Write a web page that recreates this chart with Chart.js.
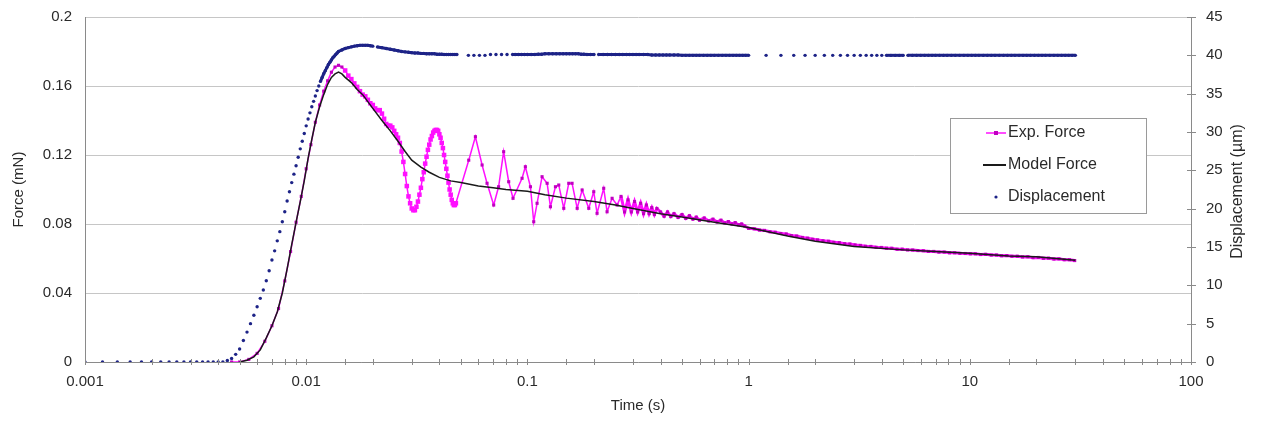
<!DOCTYPE html>
<html><head><meta charset="utf-8">
<script src="https://cdn.jsdelivr.net/npm/chart.js@4.4.0/dist/chart.umd.min.js"></script>
<style>html,body{margin:0;padding:0;background:#fff;overflow:hidden}</style>
</head><body>
<canvas id="c" width="1263" height="424"></canvas>
<script>
// ---------- data ----------
const xTickLabels = ['0.001','0.01','0.1','1','10','100'];
const forceTickLabels = ['0','0.04','0.08','0.12','0.16','0.2'];
const dispTickLabels = ['0','5','10','15','20','25','30','35','40','45'];
const legendLabels = ['Exp. Force','Model Force','Displacement'];

const dispTime = [
0.0010,0.0012,0.0014,0.0016,0.0018,0.0020,0.0022,0.0024,0.0026,0.0028,
0.0030,0.0032,0.0034,0.0036,0.0038,0.0040,0.0042,0.0044,0.0046,0.0048,
0.0050,0.0052,0.0054,0.0056,0.0058,0.0060,0.0062,0.0064,0.0066,0.0068,
0.0070,0.0072,0.0074,0.0076,0.0078,0.0080,0.0082,0.0084,0.0086,0.0088,
0.0090,0.0092,0.0094,0.0096,0.0098,0.0100,0.0102,0.0104,0.0106,0.0108,
0.0110,0.0112,0.0114,0.0116,0.0118,0.0120,0.0122,0.0124,0.0126,0.0128,
0.0130,0.0132,0.0134,0.0136,0.0138,0.0140,0.0145,0.0150,0.0155,0.0160,
0.0165,0.0170,0.0175,0.0180,0.0185,0.0190,0.0195,0.0200,0.0210,0.0220,
0.023,0.024,0.025,0.026,0.027,0.028,0.029,0.030,0.031,0.032,
0.033,0.034,0.035,0.036,0.037,0.038,0.039,0.040,0.041,0.042,
0.043,0.044,0.045,0.046,0.047,0.048,0.0541,0.0573,0.0607,0.0643,
0.0681,0.0721,0.0764,0.0809,0.0857,0.088,0.091,0.094,0.097,0.100,
0.104,0.108,0.112,0.116,0.120,0.125,0.130,0.135,0.140,0.145,
0.150,0.155,0.160,0.165,0.170,0.175,0.180,0.186,0.193,0.200,
0.21,0.22,0.23,0.24,0.25,0.26,0.27,0.28,0.29,0.30,
0.31,0.32,0.335,0.35,0.365,0.38,0.395,0.41,0.425,0.44,
0.46,0.48,0.50,0.52,0.54,0.56,0.58,0.60,0.625,0.65,
0.675,0.70,0.73,0.76,0.79,0.82,0.85,0.88,0.91,0.94,
0.97,1.0,1.2,1.4,1.6,1.8,2.0,2.2,2.4,2.6,
2.8,3.0,3.2,3.4,3.6,3.8,4.0,4.2,4.4,4.6,
4.8,5.0,5.25,5.5,5.75,6.0,6.25,6.5,6.75,7.0,
7.3,7.6,7.9,8.25,8.6,9.0,9.4,9.8,10.2,10.6,
11.0,11.5,12.0,12.5,13.0,13.6,14.2,14.8,15.4,16.0,
16.7,17.4,18.1,18.8,19.6,20.4,21.2,22.0,23.0,24.0,
25.0,26.0,27.0,28.0,29.0,30.0];
const dispMicron = [
0,0,0,0,0,0,0,0,0,0,
0,0,0,0,0,0,0,0.2,0.45,1.0,
1.7,2.8,3.9,5.0,6.1,7.2,8.3,9.4,10.6,11.9,
13.3,14.5,15.8,17.0,18.3,19.6,21.0,22.2,23.4,24.5,
25.6,26.7,27.8,28.8,29.8,30.8,31.7,32.5,33.3,34.0,
34.7,35.4,36.0,36.6,37.1,37.6,38.0,38.4,38.8,39.1,
39.4,39.7,39.9,40.1,40.3,40.5,40.7,40.9,41.0,41.1,
41.2,41.25,41.3,41.3,41.3,41.3,41.25,41.2,41.1,41.0,
40.9,40.8,40.7,40.6,40.5,40.45,40.4,40.35,40.3,40.3,
40.25,40.25,40.2,40.2,40.2,40.2,40.15,40.15,40.15,40.1,
40.1,40.1,40.1,40.1,40.1,40.1,40.0,40.0,40.0,40.0,
40.1,40.1,40.1,40.1,40.1,40.1,40.1,40.1,40.1,40.1,
40.1,40.1,40.15,40.15,40.2,40.2,40.2,40.2,40.2,40.2,
40.2,40.2,40.2,40.2,40.2,40.15,40.15,40.1,40.1,40.1,
40.1,40.1,40.1,40.1,40.1,40.1,40.1,40.1,40.1,40.1,
40.1,40.1,40.1,40.1,40.05,40.05,40.05,40.05,40.05,40.05,
40.05,40.05,40.0,40.0,40.0,40.0,40.0,40.0,40.0,40.0,
40.0,40.0,40.0,40.0,40.0,40.0,40.0,40.0,40.0,40.0,
40.0,40.0,40.0,40.0,40.0,40.0,40.0,40.0,40.0,40.0,
40.0,40.0,40.0,40.0,40.0,40.0,40.0,40.0,40.0,40.0,
40.0,40.0,40.0,40.0,40.0,40.0,40.0,40.0,40.0,40.0,
40.0,40.0,40.0,40.0,40.0,40.0,40.0,40.0,40.0,40.0,
40.0,40.0,40.0,40.0,40.0,40.0,40.0,40.0,40.0,40.0,
40.0,40.0,40.0,40.0,40.0,40.0,40.0,40.0,40.0,40.0,
40.0,40.0,40.0,40.0,40.0,40.0];

const modelTime = [
0.0050,0.0054,0.0058,0.0062,0.0066,0.0070,0.0074,0.0078,0.0082,0.0086,
0.0090,0.0094,0.0098,0.0102,0.0106,0.0110,0.0115,0.0120,0.0125,0.0130,
0.0135,0.0140,0.0145,0.0150,0.016,0.017,0.018,0.020,0.022,0.024,
0.026,0.028,0.030,0.033,0.036,0.040,0.045,0.050,0.060,0.070,
0.080,0.10,0.12,0.15,0.20,0.25,0.30,0.40,0.50,0.70,
1.0,1.5,2.0,3.0,5.0,7.0,10,15,20,30];
const modelForce = [
0.000,0.001,0.003,0.007,0.014,0.021,0.029,0.040,0.054,0.068,
0.081,0.093,0.105,0.118,0.129,0.139,0.148,0.155,0.161,0.165,
0.167,0.168,0.167,0.165,0.162,0.158,0.155,0.147,0.140,0.134,
0.128,0.122,0.117,0.113,0.110,0.107,0.105,0.104,0.102,0.101,
0.100,0.099,0.097,0.095,0.093,0.091,0.089,0.086,0.084,0.081,
0.078,0.073,0.070,0.067,0.065,0.064,0.063,0.0615,0.061,0.059];

const expTime = [
0.0046,0.0050,0.0055,0.0060,0.0065,0.0070,0.0075,0.0080,0.0085,0.0090,
0.0095,0.0100,0.0105,0.0110,0.0115,0.0120,0.0125,0.0130,0.0135,0.0140,
0.0145,0.0150,0.0155,0.0160,0.0165,0.0170,0.0175,0.0180,0.0185,0.0190,
0.0195,0.0200,0.0205,0.0210,0.0215,0.0220,0.0225,0.0230,0.0235,0.0240,
0.0245,0.0250,0.0255,0.0260,0.0265,0.0270,0.0275,0.0280,0.0285,0.0290,
0.0295,0.0300,0.0305,0.0310,0.0315,0.0320,0.0325,0.0330,0.0335,0.0340,
0.0345,0.0350,0.0355,0.0360,0.0365,0.0370,0.0375,0.0380,0.0385,0.0390,
0.0395,0.0400,0.0405,0.0410,0.0415,0.0420,0.0425,0.0430,0.0435,0.0440,
0.0445,0.0450,0.0455,0.0460,0.0465,0.0470,0.0475,0.0543,0.0582,0.0624,
0.0657,0.0704,0.0741,0.0781,0.0823,0.0861,0.0946,0.0979,0.1032,0.1068,
0.1106,0.1165,0.1228,0.1271,0.1339,0.1386,0.1460,0.1538,0.1592,0.1679,
0.1768,0.1894,0.1995,0.2065,0.2213,0.2292,0.2415,0.2544,0.265,0.275,
0.285,0.295,0.305,0.315,0.325,0.335,0.345,0.355,0.365,0.375,
0.385,0.400,0.415,0.430,0.445,0.460,0.480,0.500,0.520,0.540,
0.560,0.580,0.600,0.630,0.660,0.690,0.720,0.750,0.780,0.810,
0.840,0.870,0.900,0.930,0.960,1.00,1.06,1.12,1.18,1.25,
1.32,1.40,1.48,1.56,1.65,1.75,1.85,1.95,2.05,2.17,
2.30,2.43,2.57,2.72,2.87,3.03,3.20,3.38,3.57,3.77,
3.98,4.20,4.44,4.69,4.95,5.23,5.52,5.83,6.16,6.50,
6.87,7.25,7.66,8.09,8.54,9.02,9.53,10.06,10.6,11.2,
11.8,12.5,13.2,13.9,14.7,15.5,16.4,17.3,18.3,19.3,
20.4,21.5,22.7,24.0,25.3,26.7,28.2,29.8];
const expForce = [
0,0,0.0015,0.005,0.012,0.021,0.031,0.047,0.064,0.081,
0.096,0.112,0.126,0.139,0.149,0.157,0.163,0.168,0.171,0.172,
0.171,0.169,0.166,0.164,0.1615,0.1595,0.157,0.155,0.154,0.152,
0.150,0.149,0.147,0.146,0.146,0.144,0.141,0.138,0.137,0.137,
0.136,0.134,0.132,0.130,0.127,0.122,0.116,0.109,0.102,0.096,
0.092,0.089,0.088,0.088,0.090,0.093,0.097,0.101,0.106,0.110,
0.115,0.119,0.123,0.126,0.129,0.131,0.133,0.134,0.1345,0.1345,
0.134,0.132,0.130,0.127,0.124,0.120,0.116,0.112,0.108,0.104,
0.100,0.097,0.094,0.092,0.091,0.091,0.092,0.117,0.1306,0.1142,
0.1036,0.091,0.1016,0.1219,0.1045,0.0949,0.1065,0.1132,0.1016,0.0813,
0.092,0.1074,0.1036,0.090,0.1016,0.1026,0.0891,0.1036,0.1036,0.0891,
0.0997,0.0891,0.0987,0.0862,0.1007,0.0871,0.0949,0.091,0.096,0.087,
0.094,0.087,0.093,0.087,0.092,0.086,0.091,0.086,0.0895,0.0855,
0.089,0.087,0.0845,0.087,0.0843,0.086,0.0838,0.0855,0.0832,0.0848,
0.0828,0.0840,0.0822,0.0835,0.0818,0.0828,0.0812,0.0822,0.0806,0.0814,
0.0800,0.0808,0.0795,0.0800,0.0788,0.0775,0.0772,0.0765,0.0763,0.0755,
0.0752,0.0745,0.0742,0.0733,0.0730,0.0722,0.0718,0.0712,0.0708,0.0703,
0.0700,0.0694,0.0692,0.0686,0.0684,0.0679,0.0676,0.0671,0.0670,0.0665,
0.0664,0.0660,0.0659,0.0654,0.0654,0.0650,0.0649,0.0646,0.0645,0.0641,
0.0641,0.0637,0.0637,0.0633,0.0633,0.0630,0.0629,0.0627,0.0627,0.0623,
0.0624,0.0620,0.0620,0.0616,0.0617,0.0613,0.0613,0.0609,0.0610,0.0605,
0.0606,0.0601,0.0602,0.0597,0.0598,0.0593,0.0593,0.0588];

// ---------- styling ----------
const FONT = '"Liberation Sans", Arial, sans-serif';
const NAVY = '#1d2387';
const MAGENTA = '#ff10ff';
const MAG_PT = '#c000c0';
const AXIS = '#8a8a8a';
const TXT = '#2a2a2a';
Chart.defaults.font.family = FONT;

const pts = (ts, vs) => ts.map((t, i) => ({x: t, y: vs[i]}));
const inThick = x => x < 0.049 && x > 0.0145;

const decor = {
  id: 'decor',
  afterDraw(chart) {
    const ctx = chart.ctx, xs = chart.scales.x, y2 = chart.scales.y2, ca = chart.chartArea;
    ctx.save();
    ctx.strokeStyle = AXIS; ctx.lineWidth = 1;
    ctx.beginPath();
    xs.ticks.forEach(t => {
      const px = Math.round(xs.getPixelForValue(t.value)) + 0.5;
      ctx.moveTo(px, ca.bottom - 3); ctx.lineTo(px, ca.bottom + 3);
    });
    y2.ticks.forEach(t => {
      const py = Math.round(y2.getPixelForValue(t.value)) + 0.5;
      ctx.moveTo(ca.right - 4, py); ctx.lineTo(ca.right + 5, py);
    });
    ctx.stroke();
    ctx.save();
    ctx.translate(1238, (ca.top + ca.bottom) / 2 + 2);
    ctx.rotate(-Math.PI / 2);
    ctx.fillStyle = TXT; ctx.font = '16px ' + FONT;
    ctx.textAlign = 'center'; ctx.textBaseline = 'middle';
    ctx.fillText('Displacement (\u00b5m)', 0, 0);
    ctx.restore();
    const bx = 950.5, by = 118.5, bw = 196, bh = 95;
    ctx.fillStyle = '#ffffff'; ctx.fillRect(bx, by, bw, bh);
    ctx.strokeStyle = '#9a9a9a'; ctx.lineWidth = 1; ctx.strokeRect(bx, by, bw, bh);
    const rows = [133, 165, 197];
    ctx.strokeStyle = MAGENTA; ctx.lineWidth = 1.5;
    ctx.beginPath(); ctx.moveTo(986, rows[0]); ctx.lineTo(1006, rows[0]); ctx.stroke();
    ctx.fillStyle = MAG_PT; ctx.fillRect(994, rows[0] - 2, 4, 4);
    ctx.strokeStyle = '#1a1a1a'; ctx.lineWidth = 2;
    ctx.beginPath(); ctx.moveTo(983, rows[1]); ctx.lineTo(1006, rows[1]); ctx.stroke();
    ctx.fillStyle = NAVY;
    ctx.beginPath(); ctx.arc(996, rows[2], 1.6, 0, Math.PI * 2); ctx.fill();
    ctx.fillStyle = TXT; ctx.font = '16px ' + FONT;
    ctx.textAlign = 'left'; ctx.textBaseline = 'middle';
    legendLabels.forEach((l, i) => ctx.fillText(l, 1008, rows[i]));
    ctx.restore();
  }
};

const noVPad = s => { s.paddingTop = 0; s.paddingBottom = 0; };

new Chart(document.getElementById('c'), {
  type: 'scatter',
  data: {
    datasets: [
      { label: legendLabels[1], data: pts(modelTime, modelForce), yAxisID: 'y', showLine: true,
        borderColor: '#1a1a1a', borderWidth: 1.5, pointRadius: 0, tension: 0, order: 0 },
      { label: legendLabels[0], data: pts(expTime, expForce), yAxisID: 'y', showLine: true,
        borderColor: MAGENTA, borderWidth: 1.5, pointStyle: 'rect',
        segment: { borderWidth: c => expTime[c.p0DataIndex] >= 0.26 ? 3 : 1.5 },
        pointRadius: c => (c.raw && inThick(c.raw.x)) ? 3.2 : 2.2,
        pointBackgroundColor: c => (c.raw && inThick(c.raw.x)) ? MAGENTA : MAG_PT,
        pointBorderWidth: 0, tension: 0, order: 1 },
      { label: legendLabels[2], data: pts(dispTime, dispMicron), yAxisID: 'y2', showLine: true,
        borderColor: NAVY, borderWidth: 3, tension: 0,
        segment: { borderColor: c => Math.hypot(c.p1.x - c.p0.x, c.p1.y - c.p0.y) > 4.6 ? 'rgba(0,0,0,0)' : NAVY },
        pointRadius: 1.7, pointBackgroundColor: NAVY, pointBorderWidth: 0, order: 2 }
    ]
  },
  options: {
    responsive: false, animation: false, events: [],
    layout: { padding: { top: 17, left: 0, right: 0, bottom: 0 } },
    plugins: { legend: { display: false }, tooltip: { enabled: false } },
    scales: {
      x: {
        type: 'logarithmic', position: 'bottom', min: 0.001, max: 100,
        grid: { display: true, drawOnChartArea: false, drawTicks: false },
        border: { display: true, color: AXIS, width: 1 },
        ticks: {
          autoSkip: false, maxRotation: 0, padding: 11, color: TXT, font: { size: 15 },
          callback: v => { const e = Math.log10(v); const r = Math.round(e); return Math.abs(e - r) < 1e-6 ? xTickLabels[r + 3] : ''; }
        },
        title: { display: true, text: 'Time (s)', color: TXT, font: { size: 15 }, padding: { top: 0, bottom: 9 } },
        afterFit: s => { s.height = 62; s.paddingLeft = 0; s.paddingRight = 0; }
      },
      y: {
        position: 'left', min: 0, max: 0.2,
        grid: { color: '#c6c6c6', drawTicks: false },
        border: { display: true, color: AXIS, width: 1 },
        ticks: { stepSize: 0.04, padding: 13, color: TXT, font: { size: 15 },
                 callback: (v, i) => forceTickLabels[i] },
        title: { display: true, text: 'Force (mN)', color: TXT, font: { size: 15 }, padding: { top: 10, bottom: 0 } },
        afterFit: s => { s.width = 85; noVPad(s); }
      },
      y2: {
        position: 'right', min: 0, max: 45,
        grid: { drawOnChartArea: false, drawTicks: false },
        border: { display: true, color: AXIS, width: 1 },
        ticks: { stepSize: 5, padding: 15, color: TXT, font: { size: 15 },
                 callback: (v, i) => dispTickLabels[i] },
        afterFit: s => { s.width = 72; noVPad(s); }
      }
    }
  },
  plugins: [decor]
});
</script>
</body></html>
